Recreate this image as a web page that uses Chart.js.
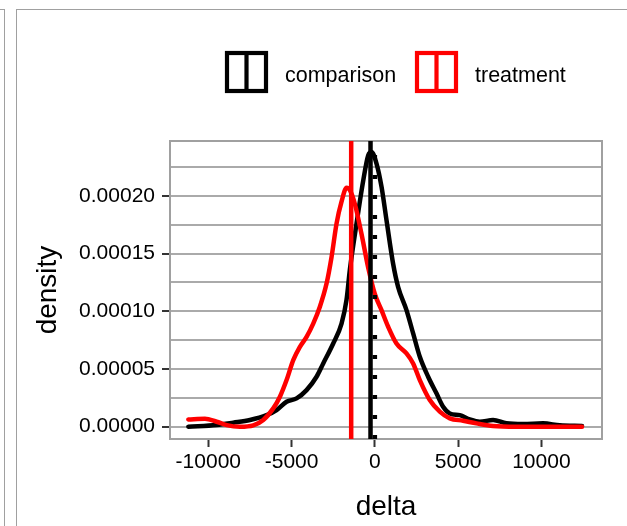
<!DOCTYPE html>
<html>
<head>
<meta charset="utf-8">
<script src="https://cdn.jsdelivr.net/npm/chart.js@4.4.1/dist/chart.umd.min.js"></script>
<style>
  html, body { margin: 0; padding: 0; background: #fff; }
  #wrap { position: relative; width: 627px; height: 526px; overflow: hidden; }
  .edgeA { position: absolute; left: 0; top: 9px; width: 4px; height: 530px; border-top: 1px solid #a0a0a0; border-right: 1px solid #a0a0a0; }
  .edgeB { position: absolute; left: 16px; top: 9px; width: 620px; height: 530px; border-top: 1px solid #a0a0a0; border-left: 1px solid #a0a0a0; }
  #chart { position: absolute; left: 0; top: 0; }
</style>
</head>
<body>
<div id="wrap">
  <div class="edgeA"></div>
  <div class="edgeB"></div>
  <canvas id="chart" width="627" height="526"></canvas>
</div>
<script>
// density estimate of delta, comparison group
const comparisonX = [-11200, -9500, -8500, -7500, -6500, -5900, -5300, -4700, -4100, -3500,
  -3100, -2500, -2000, -1700, -1500, -1100, -700, -400, -200, 100,
  400, 700, 1100, 1400, 1900, 2300, 2700, 3200, 3700, 4100,
  4500, 5100, 5700, 6300, 7100, 7900, 8900, 10100, 11100, 12440];
const comparisonY = [0, 1.5e-6, 3.5e-6, 5.8e-6, 1.0e-5, 1.44e-5, 2.16e-5, 2.45e-5, 3.17e-5, 4.33e-5,
  5.48e-5, 7.21e-5, 8.94e-5, 1.10e-4, 1.36e-4, 1.76e-4, 2.13e-4, 2.35e-4, 2.38e-4, 2.28e-4,
  2.08e-4, 1.79e-4, 1.41e-4, 1.21e-4, 1.01e-4, 8.08e-5, 6.06e-5, 4.33e-5, 2.89e-5, 1.73e-5,
  1.15e-5, 1.0e-5, 6.3e-6, 4.3e-6, 5.8e-6, 2.9e-6, 2.3e-6, 2.9e-6, 1.2e-6, 6e-7];

// density estimate of delta, treatment group
const treatmentX = [-11200, -10200, -9500, -8900, -8100, -7300, -6700, -6100, -5700, -5300,
  -4900, -4500, -4100, -3700, -3300, -2900, -2600, -2300, -2000, -1700,
  -1500, -1200, -800, -400, 0, 400, 800, 1300, 1900, 2300,
  2700, 3300, 3900, 4500, 5300, 6100, 7100, 8500, 10500, 12440];
const treatmentY = [6.3e-6, 6.9e-6, 4.3e-6, 1.4e-6, 0, 1.2e-6, 5.8e-6, 1.59e-5, 2.6e-5, 4.04e-5,
  5.77e-5, 6.92e-5, 7.79e-5, 8.94e-5, 1.04e-4, 1.24e-4, 1.47e-4, 1.76e-4, 1.95e-4, 2.07e-4,
  2.05e-4, 1.93e-4, 1.67e-4, 1.38e-4, 1.15e-4, 1.01e-4, 8.66e-5, 7.21e-5, 6.35e-5, 5.48e-5,
  4.04e-5, 2.31e-5, 1.3e-5, 7.2e-6, 5.2e-6, 2.9e-6, 6e-7, 0, 0, 0];

// group means (solid) and the zero reference (dotted)
const groupNames = ['comparison', 'treatment'];
const groupColors = ['#000000', '#ff0000'];
const groupMeans = [-260, -1420];
const zeroLine = 0;

const xTicks = [-10000, -5000, 0, 5000, 10000];
const xMin = -12300, xMax = 13640;
const yMin = -1.066e-5, yMax = 2.476e-4;

const toPoints = (xs, ys) => xs.map((x, i) => ({ x: x, y: ys[i] }));
const vline = x => [{ x: x, y: yMin }, { x: x, y: yMax }];

const curveStyle = { borderWidth: 4.5, pointRadius: 0, fill: false, tension: 0.4, cubicInterpolationMode: 'monotone', borderCapStyle: 'round', borderJoinStyle: 'round' };
const lineStyle = { borderWidth: 4.5, pointRadius: 0, fill: false, tension: 0 };

// first dataset is drawn on top
const datasets = [
  Object.assign({ label: 'mean ' + groupNames[0], data: vline(groupMeans[0]), borderColor: groupColors[0] }, lineStyle),
  Object.assign({ label: 'mean ' + groupNames[1], data: vline(groupMeans[1]), borderColor: groupColors[1] }, lineStyle),
  Object.assign({ label: 'zero', data: vline(zeroLine), borderColor: '#000', borderDash: [4, 16] }, lineStyle),
  Object.assign({ label: groupNames[1], data: toPoints(treatmentX, treatmentY), borderColor: groupColors[1] }, curveStyle),
  Object.assign({ label: groupNames[0], data: toPoints(comparisonX, comparisonY), borderColor: groupColors[0] }, curveStyle)
];

const panelBorder = {
  id: 'panelBorder',
  beforeDatasetsDraw(chart) {
    const a = chart.chartArea, ctx = chart.ctx;
    ctx.save();
    ctx.strokeStyle = '#a0a0a0';
    ctx.lineWidth = 2;
    ctx.strokeRect(a.left, a.top, a.right - a.left, a.bottom - a.top);
    ctx.restore();
  }
};

// legend keys drawn like the reference: box with a vertical bar
const keyLegend = {
  id: 'keyLegend',
  afterDraw(chart) {
    const ctx = chart.ctx;
    const boxX = [227, 417];
    ctx.save();
    groupNames.forEach((name, i) => {
      const x = boxX[i], y = 53, w = 39, h = 38;
      ctx.strokeStyle = groupColors[i];
      ctx.lineWidth = 4.2;
      ctx.strokeRect(x, y, w, h);
      ctx.beginPath();
      ctx.moveTo(x + w / 2, y);
      ctx.lineTo(x + w / 2, y + h);
      ctx.stroke();
      ctx.fillStyle = '#000';
      ctx.font = '21.5px "Liberation Sans", Arial, sans-serif';
      ctx.textBaseline = 'alphabetic';
      ctx.fillText(name, x + w + 19, 82);
    });
    ctx.restore();
  }
};

const font = '"Liberation Sans", Arial, sans-serif';

new Chart(document.getElementById('chart'), {
  type: 'line',
  data: { datasets: datasets },
  options: {
    responsive: false,
    animation: false,
    layout: { padding: { top: 141, right: 25, left: 0, bottom: 0 } },
    plugins: { legend: { display: false }, tooltip: { enabled: false } },
    scales: {
      x: {
        type: 'linear',
        min: xMin,
        max: xMax,
        afterFit(scale) { scale.height = 87; },
        afterBuildTicks(scale) { scale.ticks = xTicks.map(v => ({ value: v })); },
        grid: { drawOnChartArea: false, drawTicks: true, tickLength: 8, tickWidth: 2, tickColor: '#333', color: '#333' },
        border: { display: false },
        ticks: { padding: 3, color: '#000', font: { family: font, size: 21 }, maxRotation: 0, callback: v => String(v) },
        title: { display: true, text: 'delta', color: '#000', font: { family: font, size: 28 }, padding: { top: 0, bottom: 2 } }
      },
      y: {
        type: 'linear',
        min: yMin,
        max: yMax,
        afterFit(scale) { scale.width = 170; },
        ticks: {
          stepSize: 2.5e-5,
          includeBounds: false,
          padding: 7,
          color: '#000',
          font: { family: font, size: 21 },
          callback: v => (Math.round(v / 2.5e-5) % 2 === 0 ? v.toFixed(5) : '')
        },
        grid: {
          color: '#aaaaaa',
          lineWidth: 2,
          tickLength: 8,
          tickWidth: 2,
          tickColor: c => (c.tick && Math.round(c.tick.value / 2.5e-5) % 2 === 0 ? '#333' : 'rgba(0,0,0,0)')
        },
        border: { display: false },
        title: { display: true, text: 'density', color: '#000', font: { family: font, size: 28 }, padding: { top: 31, bottom: 0 } }
      }
    }
  },
  plugins: [panelBorder, keyLegend]
});
</script>
</body>
</html>
